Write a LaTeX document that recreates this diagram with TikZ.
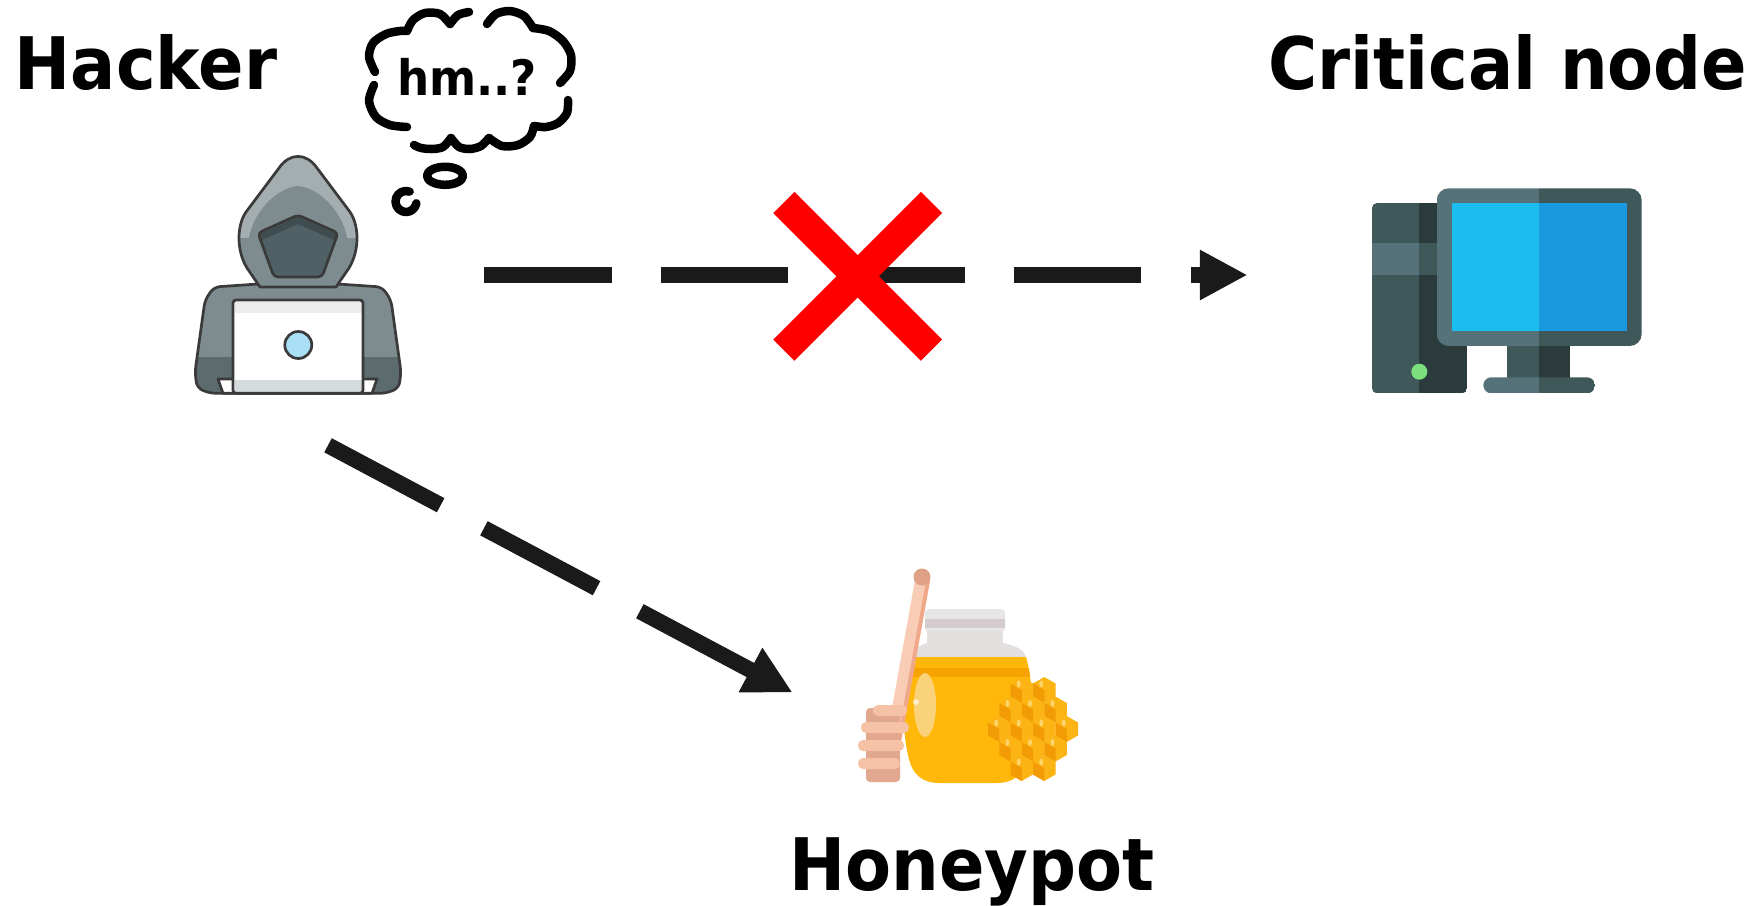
\documentclass[tikz,border=0pt]{standalone}
\usepackage{fontspec}
\setmainfont{DejaVu Sans}[FakeStretch=0.925]
\usetikzlibrary{arrows.meta}
% hacker
\definecolor{hoodline}{HTML}{3A3A3A}
\definecolor{hoodgray}{HTML}{7E8C8F}
\definecolor{hoodlight}{HTML}{A4AEB0}
\definecolor{hooddark}{HTML}{5B6B6E}
\definecolor{facegray}{HTML}{4F6164}
\definecolor{facedark}{HTML}{3F4D50}
\definecolor{stripgray}{HTML}{D5DBDC}
\definecolor{logoblue}{HTML}{A9E0F6}
% computer
\definecolor{pclight}{HTML}{55727B}
\definecolor{pcmid}{HTML}{3F5859}
\definecolor{pcdark}{HTML}{2B3A3B}
\definecolor{screenL}{HTML}{1ABDED}
\definecolor{screenR}{HTML}{1899E0}
\definecolor{led}{HTML}{7DE07F}
% honey
\definecolor{honey}{HTML}{FFB70A}
\definecolor{honeydark}{HTML}{F6A300}
\definecolor{honeylight}{HTML}{F9D27A}
\definecolor{lid}{HTML}{E7E5E5}
\definecolor{lidband}{HTML}{D5CCCD}
\definecolor{glass}{HTML}{E4DFDF}
\definecolor{stick}{HTML}{F9CDB5}
\definecolor{stickdark}{HTML}{EFA98A}
\definecolor{knob}{HTML}{DFA085}
\definecolor{ring}{HTML}{F6C2A6}
\definecolor{ringdark}{HTML}{E2A78F}
\definecolor{comb}{HTML}{FCB414}
\definecolor{combdark}{HTML}{F29B05}
\definecolor{combshine}{HTML}{FDD36A}
\definecolor{ink}{HTML}{1A1A1A}
\tikzset{>={Triangle[length=0.477cm,width=0.47cm]},
attack/.style={->, draw=ink, line width=0.16cm, dash pattern=on 1.275cm off 0.49cm},
spot/.style={inner sep=0pt, outer sep=0pt},
title/.style={font=\fontsize{20.6}{24}\selectfont\bfseries, inner sep=0pt, anchor=base west},
thought/.style={line width=0.085cm, line cap=round, line join=round},
cross/.style={draw=red, line width=0.3cm},
outl/.style={draw=hoodline, line width=0.027cm, line join=round}}
\newcommand{\hackerbody}{(258,284) -- (214,287) -- (205,300) -- (195,372) -- (197,388) -- (210,393.3) -- (386,393.3) -- (399,388) -- (401,372) -- (391,300) -- (382,287) -- (338,284) -- cycle}
\newcommand{\hood}{(298,156.5) .. controls (290,156.5) and (284,161) .. (279,168) -- (246,212) .. controls (237,225) and (236,250) .. (247,268) -- (260,287) -- (336,287) -- (349,268) .. controls (360,250) and (359,225) .. (350,212) -- (317,168) .. controls (312,161) and (306,156.5) .. (298,156.5) -- cycle}
\newcommand{\jar}{(910,657) .. controls (903,680) and (901,725) .. (908,755) .. controls (912,775) and (922,783) .. (940,783) -- (996,783) .. controls (1014,783) and (1024,775) .. (1028,755) .. controls (1035,725) and (1033,680) .. (1026,657) -- cycle}

\begin{document}
\begin{tikzpicture}[x=0.01cm, y=-0.01cm]
\fill[white] (0,0) rectangle (1754,906);

% hacker at the laptop
\fill[hoodgray, rounded corners=0.06cm] \hackerbody;
\begin{scope}
\clip[rounded corners=0.06cm] \hackerbody;
\fill[hooddark] (190,357) rectangle (410,400);
\end{scope}
\draw[outl, rounded corners=0.06cm] \hackerbody;
\fill[hoodgray] \hood;
\begin{scope}
\clip \hood;
\fill[hoodlight] (230,150) rectangle (370,238);
\fill[hoodgray] (248,245) .. controls (250,215) and (275,188) .. (298,186) .. controls (321,188) and (346,215) .. (348,245) -- cycle;
\end{scope}
\draw[outl] \hood;
\fill[facegray, rounded corners=0.04cm] (258,233) -- (298,215) -- (338,233) -- (322,277) -- (274,277) -- cycle;
\fill[facedark] (260,234) -- (298,217) -- (336,234) -- (334,240) -- (298,224) -- (262,240) -- cycle;
\draw[outl, rounded corners=0.04cm] (258,233) -- (298,215) -- (338,233) -- (322,277) -- (274,277) -- cycle;
\filldraw[outl, fill=white] (218,379) -- (377,379) -- (372,393.3) -- (223,393.3) -- cycle;
\fill[white] (233,300) rectangle (363,393.3);
\fill[gray!15] (234.5,301.5) rectangle (361.5,313);
\fill[stripgray] (234.5,380) rectangle (361.5,392);
\draw[outl, rounded corners=0.03cm] (233,300) rectangle (363,393.3);
\filldraw[outl, fill=logoblue] (298.3,345) circle (13.5);

% thought cloud
\draw[thought] plot[smooth] coordinates {(375,72) (369,57) (373,43) (386,34) (400,31) (407,31)};
\draw[thought] plot[smooth] coordinates {(407,31) (413,20) (425,13) (440,14) (450,24)};
\draw[thought] plot[smooth] coordinates {(450,24) (458,15) (469,12)};
\draw[thought] plot[smooth] coordinates {(487,24) (496,14) (510,11) (524,16) (533,28)};
\draw[thought] plot[smooth] coordinates {(533,28) (549,31) (563,41) (571,55) (570,71) (560,83)};
\draw[thought] plot[smooth] coordinates {(568,100) (567,113) (558,123) (546,127) (534,126)};
\draw[thought] plot[smooth] coordinates {(534,126) (530,137) (518,145) (502,146) (489,138)};
\draw[thought] plot[smooth] coordinates {(489,138) (481,146) (470,149) (459,147) (451,138)};
\draw[thought] plot[smooth] coordinates {(451,138) (443,147) (432,149) (421,148) (414,145)};
\draw[thought] plot[smooth] coordinates {(407,127) (390,125) (376,117) (369,101) (374,85)};
\draw[thought] (445,175.8) ellipse [x radius=18, y radius=9];
\draw[thought] (409.6,191.6) arc[start angle=290, end angle=10, radius=10.5];
\node[font=\fontsize{13.9}{16}\selectfont\bfseries, inner sep=0pt] (thinking) at (467,77) {hm..?};

% critical node
\begin{scope}
\clip[rounded corners=0.05cm] (1372,203) rectangle (1467,393.3);
\fill[pcmid] (1372,203) rectangle (1419,393.3);
\fill[pcdark] (1419,203) rectangle (1467,393.3);
\fill[pclight] (1372,243) rectangle (1419,275);
\fill[pcmid] (1419,243) rectangle (1467,275);
\end{scope}
\fill[led] (1419.3,371.7) circle (8);
\begin{scope}
\clip[rounded corners=0.12cm] (1436.7,188.3) rectangle (1641.7,346);
\fill[pclight] (1436.7,188.3) rectangle (1539.3,346);
\fill[pcmid] (1539.3,188.3) rectangle (1641.7,346);
\end{scope}
\fill[screenL] (1451.7,203.3) rectangle (1539.3,330.7);
\fill[screenR] (1539.3,203.3) rectangle (1626.7,330.7);
\fill[pcmid] (1507.3,346) rectangle (1539.3,378);
\fill[pcdark] (1539.3,346) rectangle (1570,378);
\begin{scope}
\clip[rounded corners=0.08cm] (1483.3,377.3) rectangle (1595,393.3);
\fill[pclight] (1483.3,377.3) rectangle (1539.3,393.3);
\fill[pcmid] (1539.3,377.3) rectangle (1595,393.3);
\end{scope}

% honey jar
\fill[lid, rounded corners=0.04cm] (925,609) rectangle (1005,632);
\fill[lidband] (925,619) rectangle (1005,628);
\fill[glass] (927,631) rectangle (1003,644);
\fill[glass] (927,643) .. controls (915,647) and (910,652) .. (910,660) -- (1026,660) .. controls (1026,652) and (1021,647) .. (1003,643) -- cycle;
\fill[honey] \jar;
\begin{scope}
\clip \jar;
\fill[honeydark] (900,668) rectangle (1040,677);
\end{scope}
\fill[honeylight] (925,705) ellipse [x radius=11, y radius=32];
\fill[white!60!honeylight] (916,702) circle (3);
% dipper
\draw[stick, line width=0.13cm] (922,578) -- (886,778);
\draw[stickdark, line width=0.04cm] (928,581) -- (892,781);
\fill[knob] (922,577) circle (8.5);
\fill[ringdark, rounded corners=0.04cm] (866,708) rectangle (900,782);
\fill[ring, rounded corners=0.05cm] (873,705) rectangle (907,716);
\fill[ring, rounded corners=0.05cm] (861,722) rectangle (909,733);
\fill[ring, rounded corners=0.05cm] (858,740) rectangle (904,751);
\fill[ring, rounded corners=0.05cm] (858,758) rectangle (900,769);
% honeycomb
\foreach \cx/\cy in {1021.75/690, 1044.25/690, 1010.5/709.5, 1033/709.5, 1055.5/709.5,
  999.25/729, 1021.75/729, 1044.25/729, 1066.75/729, 1010.5/748.5, 1033/748.5, 1055.5/748.5,
  1021.75/768, 1044.25/768}{
  \fill[comb] (\cx+11.26,\cy-6.5) -- (\cx,\cy-13) -- (\cx-11.26,\cy-6.5) -- (\cx-11.26,\cy+6.5) -- (\cx,\cy+13) -- (\cx+11.26,\cy+6.5) -- cycle;
  \fill[combdark] (\cx-11.26,\cy-6.5) -- (\cx,\cy) -- (\cx,\cy+13) -- (\cx-11.26,\cy+6.5) -- cycle;
  \fill[combshine] (\cx-3,\cy-6) ellipse [x radius=2, y radius=3.5];
}

% nodes
\node[spot, minimum width=3.72cm, minimum height=3.404cm] (hacker) at (298,275) {};
\node[spot, minimum width=2.7cm, minimum height=2.05cm] (critical) at (1507,291) {};
\node[spot, minimum width=2.11cm, minimum height=2.19cm] (honeypot) at (975.5,677.5) {};
\node[spot, minimum size=1.476cm] (cut) at (857.7,276.3) {};

\node[title] (hackerlabel) at (14,89) {Hacker};
\node[title] (criticallabel) at (1268,89) {Critical node};
\node[title] (honeylabel) at (789,890) {Honeypot};

% attack paths
\draw[attack, shorten >=1.243cm] (hacker.east) -- (critical.west |- hacker.east);
\draw[attack, shorten >=0.876cm] (hacker.-80) -- (honeypot.208);
\draw[cross] (cut.north west) -- (cut.south east) (cut.north east) -- (cut.south west);
\end{tikzpicture}
\end{document}
